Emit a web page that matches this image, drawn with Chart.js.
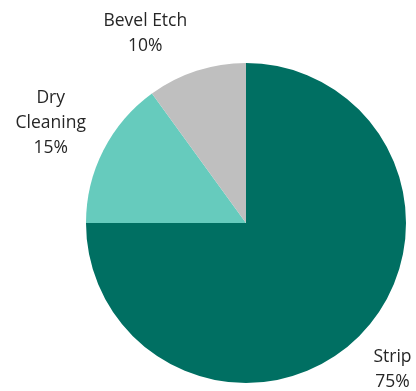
<!DOCTYPE html>
<html><head><meta charset="utf-8">
<script src="https://cdn.jsdelivr.net/npm/chart.js@4/dist/chart.umd.min.js"></script>
<style>html,body{margin:0;padding:0;background:#fff;}#wrap{width:416px;height:391px;}</style>
</head><body><div id="wrap"><canvas id="c" width="416" height="391"></canvas></div>
<script>
const categories = ["Strip", "Dry Cleaning", "Bevel Etch"];
const labelLines = [["Strip", "75%"], ["Dry", "Cleaning", "15%"], ["Bevel Etch", "10%"]];
const values = [75, 15, 10];
const colors = ["#006f62", "#66cbbd", "#bfbfbf"];
// label placement: radius factor and angular nudge (degrees)
const labelRadius = [1.295, 1.37, 1.34];
const labelNudge = [0, 0, -10];

const labelPlugin = {
  id: 'outLabels',
  afterDatasetsDraw(chart) {
    const ctx = chart.ctx;
    const meta = chart.getDatasetMeta(0);
    ctx.save();
    ctx.font = '17.5px "Open Sans", sans-serif';
    ctx.fillStyle = '#262626';
    ctx.textAlign = 'center';
    ctx.textBaseline = 'middle';
    const lh = 25;
    meta.data.forEach((arc, i) => {
      const p = arc.getProps(['x','y','startAngle','endAngle','outerRadius'], true);
      const a = (p.startAngle + p.endAngle) / 2 + labelNudge[i] * Math.PI / 180;
      const r = p.outerRadius * labelRadius[i];
      const cx = p.x + Math.cos(a) * r;
      const cy = p.y + Math.sin(a) * r;
      const lines = labelLines[i];
      const y0 = cy - (lines.length - 1) * lh / 2;
      lines.forEach((t, k) => ctx.fillText(t, cx, y0 + k * lh));
    });
    ctx.restore();
  }
};

new Chart(document.getElementById('c'), {
  type: 'pie',
  data: { labels: categories, datasets: [{ data: values, backgroundColor: colors, borderWidth: 0 }] },
  options: {
    responsive: false,
    animation: false,
    layout: { padding: { top: 63, bottom: 8, left: 86, right: 10 } },
    plugins: { legend: { display: false }, tooltip: { enabled: false } }
  },
  plugins: [labelPlugin]
});
</script></body></html>
